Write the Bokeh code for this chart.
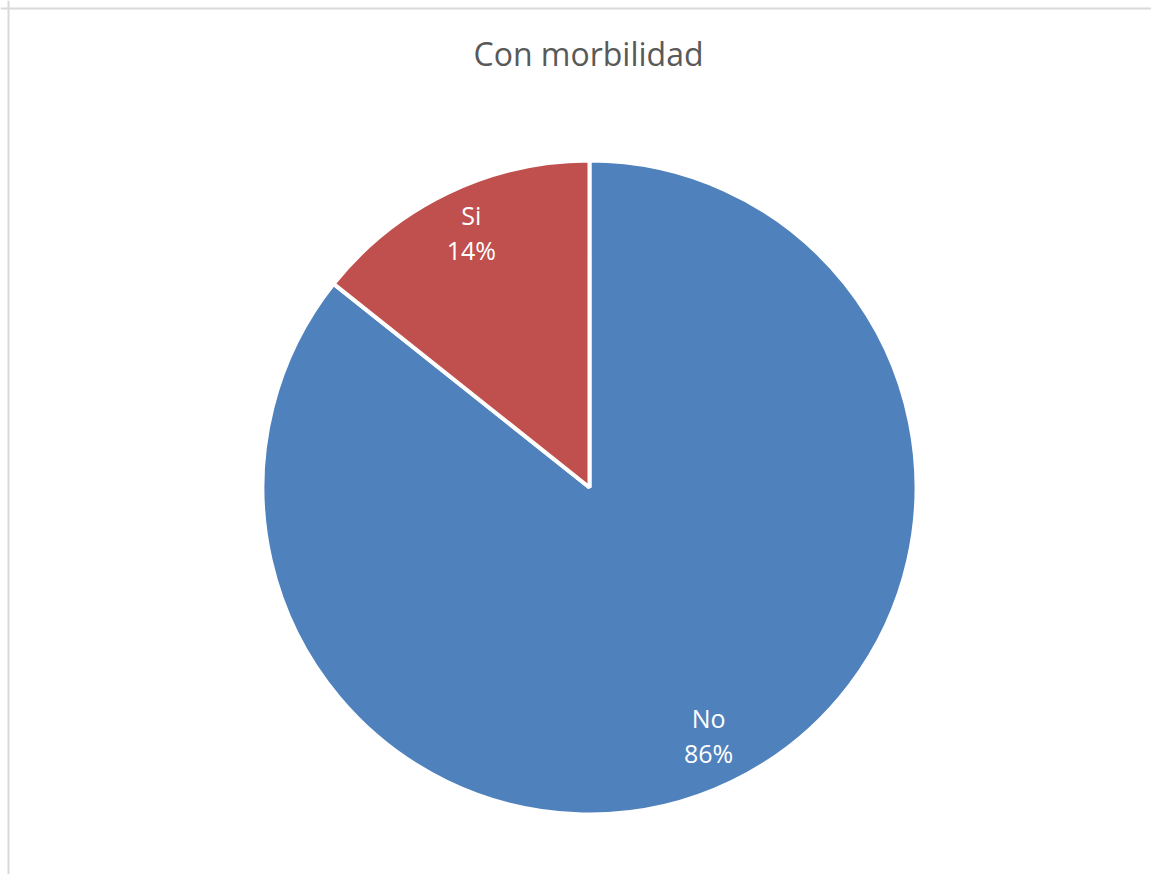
import numpy as np
from bokeh.plotting import figure
from bokeh.models import Range1d, Span, ColumnDataSource
from bokeh.core.properties import value
from bokeh.embed import file_html
from bokeh.resources import INLINE

# ---- data ----
title_text = "Con morbilidad"
categories = ["No", "Si"]
shares = [85.7, 14.3]
colors = ["#4F81BD", "#C0504D"]

# ---- layout (pixel-like data coordinates, y up = 890 - screen_y) ----
W, H = 1151, 874
cx, cy = 589, 890 - 487
R = 327
label_r = 0.853 * R

p = figure(width=W, height=H, x_range=Range1d(0, W), y_range=Range1d(890 - H, 890),
           output_backend="svg", toolbar_location=None, min_border=0)
p.axis.visible = False
p.grid.visible = False
p.outline_line_color = None
p.background_fill_color = "white"
p.border_fill_color = "white"

total = sum(shares)
angles = [s / total * 2 * np.pi for s in shares]
starts, ends, mids = [], [], []
a = np.pi / 2
for ang in angles:
    starts.append(a)
    ends.append(a - ang)
    mids.append(a - ang / 2)
    a -= ang

src = ColumnDataSource(dict(cat=categories, start=starts, end=ends, color=colors))
p.wedge(x=cx, y=cy, radius=R, start_angle="start", end_angle="end", direction="clock",
        fill_color="color", line_color="white", line_width=4, source=src)

pct = [f"{round(s / total * 100)}%" for s in shares]
lx = [cx + label_r * np.cos(m) + (3 if np.cos(m) < 0 else -2) for m in mids]
ly = [cy + label_r * np.sin(m) for m in mids]
name_src = ColumnDataSource(dict(x=lx, y=[v + 21 for v in ly], t=categories))
pct_src = ColumnDataSource(dict(x=lx, y=[v - 14 for v in ly], t=pct))
for s in (name_src, pct_src):
    p.text(x="x", y="y", text="t", source=s, text_align="center", text_baseline="alphabetic",
           text_color="white", text_font=value("Open Sans"), text_font_size="25px")

p.text(x=[588], y=[890 - 53], text=[title_text], text_align="center", text_baseline="alphabetic",
       text_color="#595959", text_font=value("Open Sans"), text_font_size="32px")

p.add_layout(Span(location=8, dimension="height", line_color="#D9D9D9", line_width=2))
p.add_layout(Span(location=882, dimension="width", line_color="#D9D9D9", line_width=2))

open("out.html", "w").write(file_html(p, INLINE))
